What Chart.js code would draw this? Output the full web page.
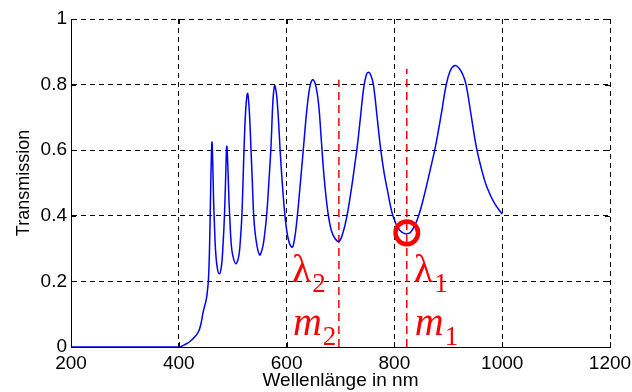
<!DOCTYPE html>
<html lang="de">
<head>
  <meta charset="UTF-8" />
  <title>Transmission</title>
  <script src="https://cdn.jsdelivr.net/npm/chart.js"></script>
  <style>
    * { margin: 0; padding: 0; box-sizing: border-box; }
    body { background: #fff; }
    #chart { display: block; }
  </style>
</head>
<body>
  <canvas id="chart" width="632" height="392"></canvas>

  <script>
    // values
    const wavelength = [200, 300, 400, 405, 412, 420, 428, 436, 441, 445, 448, 451, 453, 455, 457, 459, 460, 461.5, 463, 464.5, 466, 468, 471, 475, 479, 482, 484.7, 487, 489, 491, 493, 494.7, 497, 500, 505.8, 511, 514, 517, 521, 524, 527.4, 530, 532, 534, 536.5, 539, 543, 549.7, 555, 559, 563.4, 567, 571, 574, 576, 578, 580, 582, 585, 588, 592, 597, 603, 609.8, 614, 619, 625, 631.4, 638, 644, 649, 655, 660, 664, 670, 676.7, 683, 690, 697, 704, 712, 720, 726, 731.7, 737, 743, 748, 752, 756, 761, 768, 774, 781, 788, 795.5, 803, 810, 817, 823, 830, 837, 845, 855, 865, 876, 888, 895, 903, 912, 920, 927, 933, 942, 952, 962, 971, 985, 1000];
    const transmission = [0, 0, 0, 0.002, 0.008, 0.016, 0.028, 0.045, 0.07, 0.105, 0.125, 0.145, 0.17, 0.205, 0.3, 0.47, 0.55, 0.625, 0.56, 0.45, 0.38, 0.3, 0.245, 0.223, 0.245, 0.31, 0.4, 0.52, 0.612, 0.55, 0.45, 0.39, 0.32, 0.28, 0.254, 0.275, 0.32, 0.4, 0.6, 0.72, 0.773, 0.74, 0.68, 0.6, 0.5, 0.4, 0.33, 0.281, 0.3, 0.34, 0.41, 0.5, 0.61, 0.73, 0.78, 0.797, 0.785, 0.76, 0.69, 0.6, 0.5, 0.4, 0.33, 0.304, 0.322, 0.385, 0.49, 0.61, 0.73, 0.8, 0.815, 0.79, 0.73, 0.64, 0.51, 0.41, 0.355, 0.33, 0.322, 0.345, 0.4, 0.48, 0.55, 0.62, 0.7, 0.79, 0.83, 0.838, 0.83, 0.8, 0.7, 0.61, 0.53, 0.47, 0.41, 0.375, 0.356, 0.347, 0.345, 0.35, 0.368, 0.4, 0.46, 0.53, 0.61, 0.72, 0.79, 0.84, 0.858, 0.85, 0.83, 0.8, 0.71, 0.61, 0.54, 0.49, 0.44, 0.405];

    const xTicks = [200, 400, 600, 800, 1000, 1200];
    const yTicks = [0, 0.2, 0.4, 0.6, 0.8, 1];
    const yTickLabels = ['0', '0.2', '0.4', '0.6', '0.8', '1'];

    // red markers: m2 / lambda2 and m1 / lambda1
    const markerLambda = [697, 823];
    const markerTop = [0.815, 0.848];
    const markerNames = [['\u03bb', '2', 'm', '2'], ['\u03bb', '1', 'm', '1']];
    const circleLambda = [823];
    const circleT = [0.348];

    const black = '#000';
    const red = '#ff0000';
    const sans = "'Liberation Sans', Arial, sans-serif";
    const serif = "'Liberation Serif', 'Times New Roman', serif";

    const curve = wavelength.map((w, i) => ({ x: w, y: transmission[i] }));
    const markerLines = markerLambda.map((w, i) => ({
      data: [{ x: w, y: 0 }, { x: w, y: markerTop[i] }],
      borderColor: red,
      borderWidth: 1.5,
      borderDash: [8, 5],
      pointRadius: 0
    }));

    // small inward ticks and the red annotations
    const extras = {
      id: 'extras',
      afterDraw(chart) {
        const { ctx, chartArea: a, scales: { x, y } } = chart;
        ctx.save();
        ctx.strokeStyle = black;
        ctx.lineWidth = 1;
        ctx.beginPath();
        xTicks.forEach(v => {
          const px = Math.round(x.getPixelForValue(v)) + 0.5;
          ctx.moveTo(px, a.bottom); ctx.lineTo(px, a.bottom - 5);
          ctx.moveTo(px, a.top); ctx.lineTo(px, a.top + 5);
        });
        yTicks.forEach(v => {
          const py = Math.round(y.getPixelForValue(v)) + 0.5;
          ctx.moveTo(a.left, py); ctx.lineTo(a.left + 5, py);
          ctx.moveTo(a.right, py); ctx.lineTo(a.right - 5, py);
        });
        ctx.stroke();

        ctx.fillStyle = red;
        ctx.textBaseline = 'alphabetic';
        ctx.textAlign = 'left';
        const drawSub = (main, sub, italic, left, base, subBase) => {
          ctx.font = (italic ? 'italic ' : '') + '40px ' + serif;
          ctx.fillText(main, left, base);
          const w = ctx.measureText(main).width;
          ctx.font = '27px ' + serif;
          ctx.fillText(sub, left + w + 1, subBase);
        };
        markerLambda.forEach((w, i) => {
          const px = x.getPixelForValue(w);
          const n = markerNames[i];
          const dx = i === 0 ? -47 : 7;
          drawSub(n[0], n[1], false, px + dx, 282, 292);
          drawSub(n[2], n[3], true, px + dx + 1, 335, 345);
        });
        ctx.restore();
      }
    };

    new Chart(document.getElementById('chart'), {
      type: 'line',
      data: {
        datasets: [
          {
            data: circleLambda.map((w, i) => ({ x: w, y: circleT[i] })),
            showLine: false,
            pointRadius: 11.3,
            pointBorderWidth: 4.5,
            pointBorderColor: red,
            pointBackgroundColor: 'rgba(0,0,0,0)'
          },
          {
            data: curve,
            borderColor: '#0000ff',
            borderWidth: 1.5,
            pointRadius: 0,
            tension: 0.4
          },
          ...markerLines
        ]
      },
      options: {
        responsive: false,
        animation: false,
        devicePixelRatio: 1,
        layout: { padding: { left: 0, right: 22, top: 19, bottom: 0 } },
        plugins: { legend: { display: false }, tooltip: { enabled: false } },
        scales: {
          x: {
            type: 'linear',
            min: 200,
            max: 1200,
            afterBuildTicks: s => { s.ticks = xTicks.map(v => ({ value: v })); },
            afterFit: s => { s.height = 45; s.paddingLeft = 0; s.paddingRight = 0; },
            grid: { color: black, drawTicks: false, lineWidth: 1 },
            border: { color: black, dash: [5, 4] },
            ticks: {
              color: black,
              padding: 5,
              maxRotation: 0,
              font: { family: sans, size: 19 },
              callback: v => String(v)
            },
            title: {
              display: true,
              text: 'Wellenlänge in nm',
              color: black,
              font: { family: sans, size: 19 },
              padding: { top: 0, bottom: 0 }
            }
          },
          y: {
            min: 0,
            max: 1,
            afterBuildTicks: s => { s.ticks = yTicks.map(v => ({ value: v })); },
            afterFit: s => { s.width = 71; s.paddingTop = 0; s.paddingBottom = 0; },
            grid: { color: black, drawTicks: false, lineWidth: 1 },
            border: { color: black, dash: [5, 4] },
            ticks: {
              color: black,
              padding: 4,
              font: { family: sans, size: 19 },
              callback: (v) => yTickLabels[yTicks.indexOf(v)]
            },
            title: {
              display: true,
              text: 'Transmission',
              color: black,
              font: { family: sans, size: 18 },
              padding: { top: 13, bottom: 0 }
            }
          }
        }
      },
      plugins: [extras]
    });
  </script>
</body>
</html>
